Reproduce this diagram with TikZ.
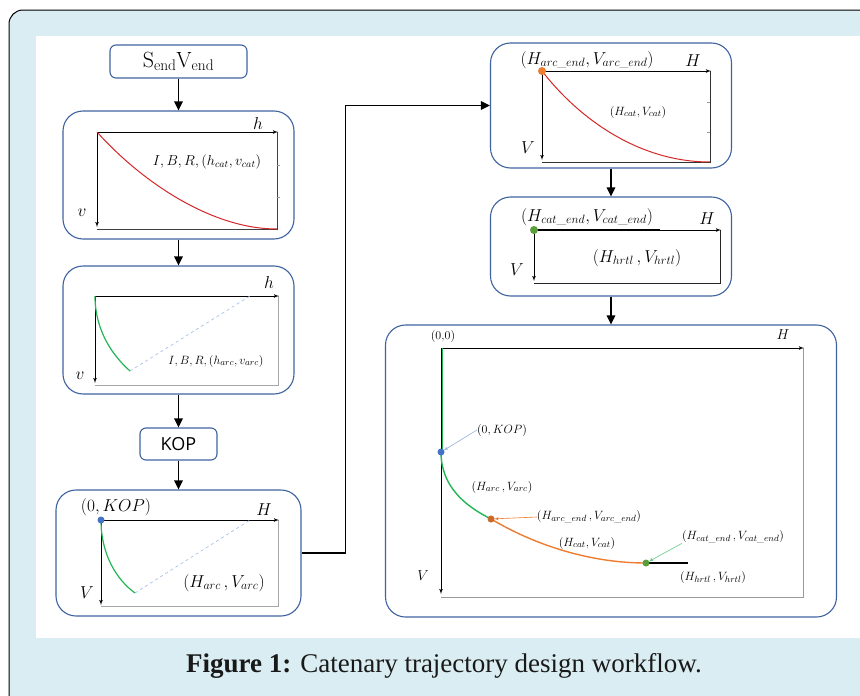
\documentclass[tikz,border=0pt]{standalone}
\usepackage{amsmath}
\usepackage{fontspec}
\newfontfamily\kopfont{Open Sans}
\newfontfamily\capfont{Liberation Serif}
\usetikzlibrary{arrows}
\usetikzlibrary{arrows.meta}
\definecolor{framebg}{HTML}{DAEDF2}
\definecolor{boxblue}{HTML}{3F63A0}
\definecolor{catred}{HTML}{D62728}
\definecolor{arcgreen}{HTML}{22B655}
\definecolor{endorange}{HTML}{ED7D31}
\definecolor{kopblue}{HTML}{4472C4}
\definecolor{dashblue}{HTML}{A8C3EA}
\definecolor{hrtlgreen}{HTML}{5A9E3A}
\newcommand{\us}{\text{\_}}
\tikzset{
  flowbox/.style={draw=boxblue, fill=white, line width=1.1pt,
    rounded corners=6pt, inner sep=0pt},
  panel/.style={draw=boxblue, fill=white, line width=1.1pt,
    rounded corners=20pt, inner sep=0pt},
  arrow/.style={-{Triangle[length=9pt, width=8.5pt]}, line width=1.5pt},
  axis/.style={->, >=latex', line width=0.8pt},
  rimline/.style={line width=0.8pt},
  pointer/.style={->, >=latex', line width=0.6pt, shorten >=3pt},
  note/.style={inner sep=0pt, font=\fontsize{#1}{#1}\selectfont},
  capnote/.style={inner sep=0pt, text=black!90,
    font=\capfont\fontsize{27}{30}\selectfont}
}
\begin{document}
\begin{tikzpicture}[x=1pt, y=-1pt]
\useasboundingbox (0,0) rectangle (860,696);
% frame
\draw[fill=framebg, line width=1pt, rounded corners=14pt] (9,10) rectangle (900,740);
\fill[white] (36,36) rectangle (900,638);
\node[capnote, anchor=base] (caption) at (444,672)
  {\textbf{Figure 1:} Catenary trajectory design workflow.};

% left column
\node[flowbox, minimum width=137pt, minimum height=33pt,
  font=\fontsize{22}{24}\selectfont] (send) at (178.5,61.5) {$\mathrm{S_{end}V_{end}}$};
\node[panel, minimum width=231pt, minimum height=128pt] (catpanel) at (178.5,175) {};
\node[panel, minimum width=231pt, minimum height=128pt] (arcpanel) at (178.5,330) {};
\node[flowbox, minimum width=77pt, minimum height=32pt,
  font=\kopfont\fontsize{18}{20}\selectfont] (kop) at (178.5,444) {KOP};
\node[panel, minimum width=245pt, minimum height=126pt] (koppanel) at (178.5,553) {};

% right column
\node[panel, minimum width=241pt, minimum height=125pt] (catendpanel) at (611,105.5) {};
\node[panel, minimum width=241pt, minimum height=99pt] (hrtlpanel) at (611,246.5) {};
\node[panel, minimum width=451pt, minimum height=292pt] (trajpanel) at (611,471) {};

\draw[arrow] (send) -- (catpanel);
\draw[arrow] (catpanel) -- (arcpanel);
\draw[arrow] (arcpanel) -- (kop);
\draw[arrow] (kop) -- (koppanel);
\draw[arrow] (koppanel.east) -- ++(44,0) |- (catendpanel.west);
\draw[arrow] (catendpanel) -- (hrtlpanel);
\draw[arrow] (hrtlpanel) -- (trajpanel);

% catenary, local axes
\draw[rimline, black!75] (277,132) -- (277,229) -- (97,229);
\draw[black!40, line width=0.5pt] (277,165) -- (280,165) (277,197) -- (280,197);
\draw[axis] (97,132) -- (278,132);
\draw[axis] (97,132) -- (97,227);
\draw[catred, line width=1pt] (97,132) .. controls (140,180) and (210,229) .. (277,229);
\node[note=16] (hcat) at (258,123) {$h$};
\node[note=17] (vcat) at (82,213) {$v$};
\node[note=14.5] (ibrcat) at (207,162) {$I,B,R,(h_{cat},v_{cat})$};

% arc, local axes
\draw[rimline, black!35] (278,296) -- (278,385) -- (95,385);
\draw[axis] (95,296) -- (279,296);
\draw[axis] (95,296) -- (95,383);
\draw[dashblue, dashed, line width=0.7pt] (130,371) -- (250,296);
\draw[arcgreen, line width=1.2pt] (95,296) .. controls (95,330) and (112,355) .. (130,371);
\node[note=16] (harc) at (269,282) {$h$};
\node[note=17] (varc) at (80,376) {$v$};
\node[note=13] (ibrarc) at (216,361) {$I,B,R,(h_{arc},v_{arc})$};

% arc from KOP
\draw[rimline, black!35] (278,520) -- (278,606) -- (101,606);
\draw[axis] (101,520) -- (279,520);
\draw[axis] (101,520) -- (101,605);
\draw[dashblue, dashed, line width=0.7pt] (135,593) -- (250,520);
\draw[arcgreen, line width=1.2pt] (101,520) .. controls (101,555) and (117,580) .. (135,593);
\fill[kopblue] (101,520) circle[radius=3.5pt];
\node[note=16] (kopC) at (116,507) {$(0,KOP)$};
\node[note=16] (HC) at (264,510) {$H$};
\node[note=16] (VC) at (87,593) {$V$};
\node[note=18] (arcC) at (224,583) {$(H_{arc}\,,V_{arc})$};

% catenary from arc end
\draw[rimline, black!80] (710,71) -- (710,162) -- (542,162);
\draw[black!40, line width=0.5pt] (707,102) -- (710,102) (707,132) -- (710,132);
\draw[axis] (542,71) -- (711,71);
\draw[axis] (542,71) -- (542,160);
\draw[catred, line width=1pt] (542,71) .. controls (580,120) and (640,162) .. (710,162);
\fill[endorange] (542,71) circle[radius=4pt];
\node[note=17] (arcendD) at (587,60) {$(H_{arc\us end},V_{arc\us end})$};
\node[note=16] (HD) at (693,61) {$H$};
\node[note=12.5] (catD) at (638,112) {$(H_{cat},V_{cat})$};
\node[note=16] (VD) at (528,148) {$V$};

% hold section
\draw[rimline, black!85] (720,230) -- (720,283) -- (534,283);
\draw[axis] (534,230) -- (721,230);
\draw[axis] (534,230) -- (534,281);
\draw[line width=1.6pt] (534,230) -- (660,230);
\fill[hrtlgreen] (534,230) circle[radius=4pt];
\node[note=18.5] (catendE) at (587,217) {$(H_{cat\us end},V_{cat\us end})$};
\node[note=17] (HE) at (707,219) {$H$};
\node[note=18.5] (hrtlE) at (637,258) {$(H_{hrtl}\,,V_{hrtl})$};
\node[note=17] (VE) at (517,270) {$V$};

% whole trajectory
\draw[rimline, black!40] (803,348) -- (803,597) -- (441,597);
\draw[axis] (441,348) -- (804,348);
\draw[axis] (441,348) -- (441,594);
\draw[arcgreen, line width=1.4pt] (442.5,348) -- (442.5,452);
\draw[arcgreen, line width=1.4pt] (441,452) .. controls (441,485) and (463,505) .. (491,519);
\draw[endorange, line width=1.4pt] (491,519) .. controls (540,548) and (595,563) .. (646,563);
\draw[line width=1.6pt] (646,563) -- (688,563);
\coordinate (kopdot) at (441,452);
\coordinate (arcenddot) at (491,519);
\coordinate (catenddot) at (646,563);
\fill[kopblue] (kopdot) circle[radius=3.5pt];
\fill[endorange!85!black] (arcenddot) circle[radius=3.5pt];
\fill[hrtlgreen] (catenddot) circle[radius=3.5pt];
\node[note=12] (origin) at (443,337) {(0,0)};
\node[note=15] (HF) at (783,335) {$H$};
\node[note=15] (VF) at (423,576) {$V$};
\node[note=12] (kopnote) at (502,430) {$(0,KOP)$};
\node[note=12.5] (arcnote) at (502,487) {$(H_{arc}\,,V_{arc})$};
\node[note=13] (arcendnote) at (589,517) {$(H_{arc\us end}\,,V_{arc\us end})$};
\node[note=12.5] (catnote) at (587,543) {$(H_{cat},V_{cat})$};
\node[note=13] (catendnote) at (733,537) {$(H_{cat\us end}\,,V_{cat\us end})$};
\node[note=13] (hrtlnote) at (713,577) {$(H_{hrtl}\,,V_{hrtl})$};
\draw[pointer, kopblue!55] (kopnote.west) -- (kopdot);
\draw[pointer, endorange] (arcendnote.west) -- (arcenddot);
\draw[pointer, arcgreen!70] (catendnote.south west) -- (catenddot);
\end{tikzpicture}
\end{document}
